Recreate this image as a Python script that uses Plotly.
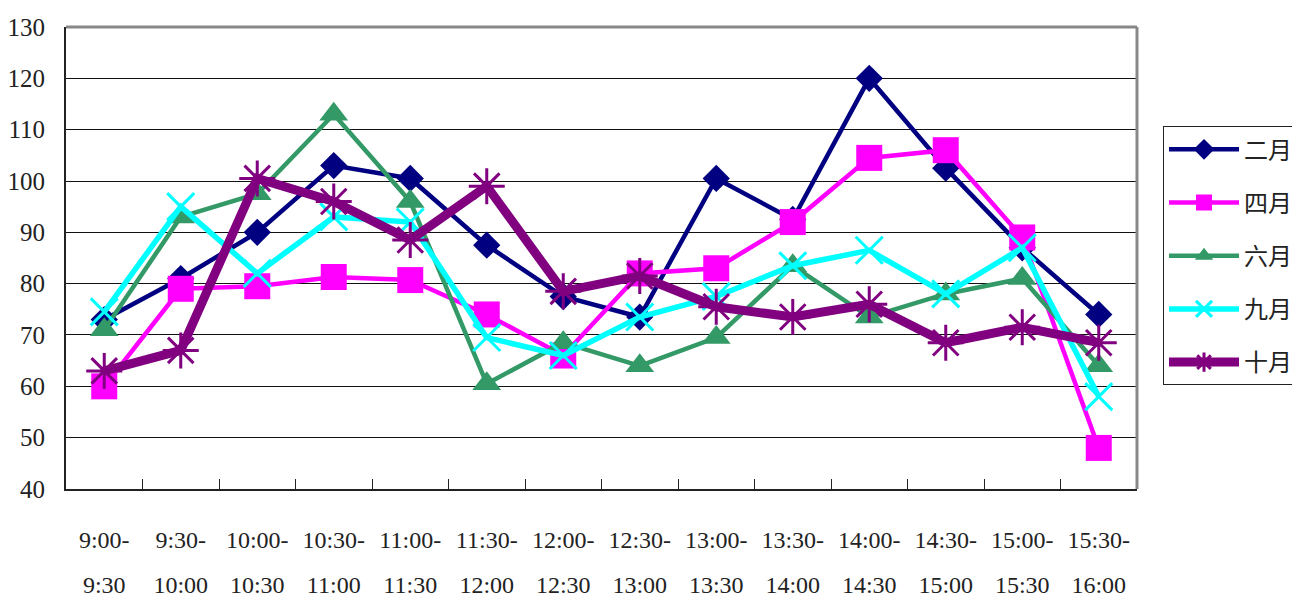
import plotly.graph_objects as go

start_times = ["9:00-", "9:30-", "10:00-", "10:30-", "11:00-", "11:30-", "12:00-",
               "12:30-", "13:00-", "13:30-", "14:00-", "14:30-", "15:00-", "15:30-"]
end_times = ["9:30", "10:00", "10:30", "11:00", "11:30", "12:00", "12:30",
             "13:00", "13:30", "14:00", "14:30", "15:00", "15:30", "16:00"]
categories = [s + e for s, e in zip(start_times, end_times)]

feb = [73, 81, 90, 103, 100.5, 87.5, 77.5, 73.5, 100.5, 92.5, 120, 102.5, 87, 74]
apr = [60, 79, 79.5, 81.3, 80.7, 74, 66, 82, 83, 92, 104.5, 106, 89, 48]
jun = [71, 93, 97.5, 113, 96, 60.5, 68.5, 64, 69.5, 83.5, 73.5, 78, 81, 64]
sep = [74.5, 95, 82, 93, 92, 69.5, 66, 73.5, 77.5, 83.5, 86.5, 78, 87, 58]
octo = [63, 67, 100.5, 96, 88.5, 99, 78.5, 81.5, 75.5, 73.5, 76, 68.5, 71.5, 68.5]

series = [
    ("二月", feb, "#000080", 4.5, dict(symbol="diamond", size=21, color="#000080")),
    ("四月", apr, "#FF00FF", 4.5, dict(symbol="square", size=26, color="#FF00FF")),
    ("六月", jun, "#339966", 4.5, dict(symbol="triangle-up", size=25, color="#339966")),
    ("九月", sep, "#00FFFF", 5.5, dict(symbol="x-thin-open", size=27,
                                      line=dict(color="#00FFFF", width=3))),
    ("十月", octo, "#800080", 9, dict(symbol="asterisk-open", size=30,
                                      line=dict(color="#800080", width=3))),
]

SERIF = "'Liberation Serif', 'Times New Roman', Times, serif"

fig = go.Figure()
for i, (name, vals, color, lw, marker) in enumerate(series):
    fig.add_trace(go.Scatter(
        x=categories, y=vals, name=name, mode="lines+markers",
        line=dict(color=color, width=lw), marker=marker,
        legendgroup=str(i),
    ))

# invisible trace carrying the second row of x labels
fig.add_trace(go.Scatter(x=list(range(14)), y=[None] * 14, xaxis="x2",
                         showlegend=False, hoverinfo="skip"))

fig.update_layout(
    width=1292, height=596,
    margin=dict(l=58, r=163, t=19, b=10, autoexpand=False),
    paper_bgcolor="white", plot_bgcolor="white",
    font=dict(family=SERIF, size=22, color="#222"),
    xaxis=dict(
        type="category", range=[-0.5, 13.5],
        tickmode="array", tickvals=categories, ticktext=start_times,
        ticks="inside", tickson="boundaries", ticklen=10, tickcolor="#222", tickwidth=1,
        showgrid=False, showline=True, linecolor="#222", linewidth=2,
        ticklabelstandoff=28, tickfont=dict(family=SERIF, size=24),
        anchor="y",
    ),
    xaxis2=dict(
        overlaying="x", anchor="y", side="bottom", range=[-0.5, 13.5],
        tickmode="array", tickvals=list(range(14)), ticktext=end_times,
        showgrid=False, showline=False, zeroline=False, ticks="",
        ticklabelstandoff=79, tickfont=dict(family=SERIF, size=24),
    ),
    yaxis=dict(
        domain=[0.1852, 1], range=[40, 130], dtick=10, tick0=40,
        showgrid=True, gridcolor="#111", gridwidth=1,
        showline=True, linecolor="#222", linewidth=2,
        zeroline=False, ticks="", ticklabelstandoff=14,
        tickfont=dict(family=SERIF, size=25),
    ),
    legend=dict(
        x=1.0243, xanchor="left", y=0.825, yanchor="top",
        bgcolor="white", bordercolor="#222", borderwidth=1,
        font=dict(family="'Noto Sans CJK TC', 'Noto Sans CJK SC', sans-serif", size=24, color="#222"),
        itemwidth=70, tracegroupgap=19,
    ),
    shapes=[
        dict(type="line", xref="x domain", yref="y domain", x0=0, x1=1, y0=1, y1=1,
             line=dict(color="#888", width=3)),
        dict(type="line", xref="x domain", yref="y domain", x0=1, x1=1, y0=0, y1=1,
             line=dict(color="#888", width=3)),
    ],
)

fig.write_html("out.html")
